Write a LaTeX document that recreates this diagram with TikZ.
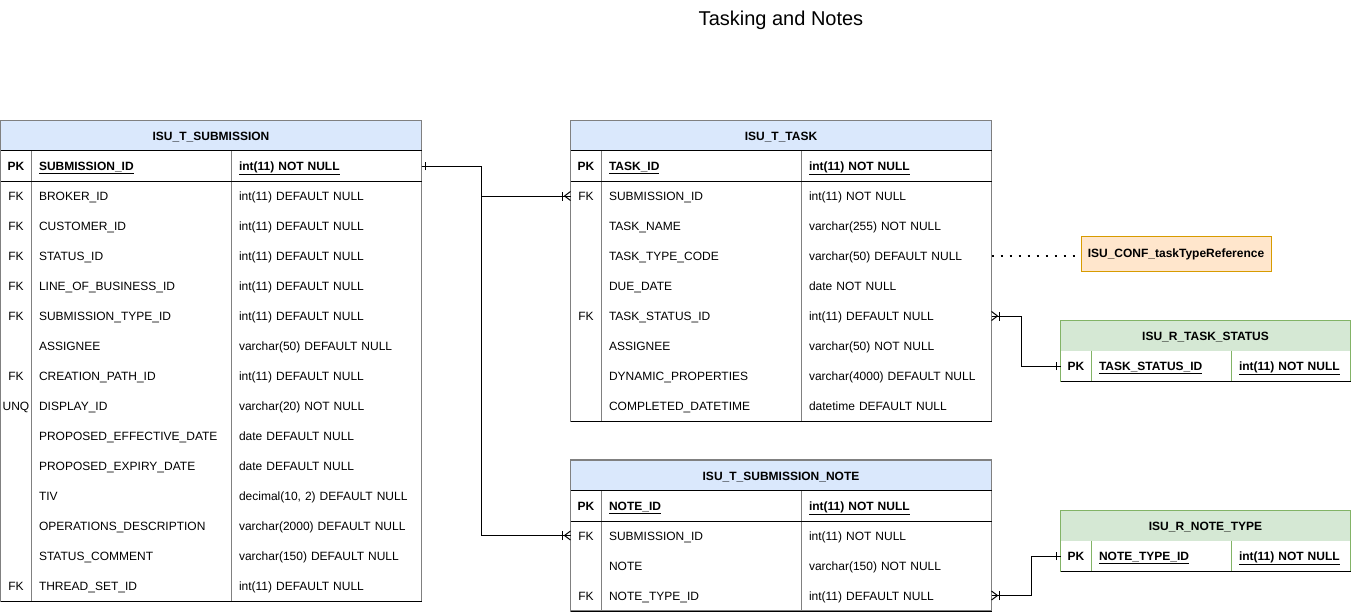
\documentclass[tikz,border=0pt]{standalone}
\usepackage{fontspec}
\setmainfont{Liberation Sans}
\usepackage{xcolor}
\usepackage{tikz}
\usetikzlibrary{positioning, decorations.markings}
\definecolor{headblue}{HTML}{DAE8FC}
\definecolor{headgreen}{HTML}{D5E8D4}
\definecolor{linegreen}{HTML}{82B366}
\definecolor{confill}{HTML}{FFE6CC}
\definecolor{conline}{HTML}{D79B00}

\begin{document}
\begin{tikzpicture}[
  x=1pt, y=-1pt, line width=1pt,
  font=\fontsize{12}{14}\selectfont,
  title/.style={font=\fontsize{20}{24}\selectfont},
  head/.style={minimum height=30pt, inner sep=0pt, text height=9pt, text depth=0pt, font=\fontsize{12}{14}\selectfont\bfseries},
  keycell/.style={minimum width=30pt, minimum height=30pt, inner sep=0pt, text height=9pt, text depth=0pt},
  cell/.style={minimum height=30pt, inner xsep=8pt, inner ysep=0pt, text height=9pt, text depth=0pt, align=left},
  namecell/.style={cell, text width=184pt},
  typecell/.style={cell, text width=174pt},
  pk/.style={font=\fontsize{12}{14}\selectfont\bfseries},
  frame/.style={draw=black!50, line width=1.2pt},
  gframe/.style={draw=linegreen, line width=1.2pt},
  rule/.style={draw=black},
  conf/.style={draw=conline, fill=confill, minimum width=190pt, minimum height=35pt, font=\fontsize{12}{14}\selectfont\bfseries},
  dots/.style={line width=2pt, dash pattern=on 2pt off 7pt},
  rel/.style={draw=black, line width=1pt},
  one start/.style={postaction={decorate, decoration={markings,
      mark=at position 4pt with {\draw[black, line width=1pt] (0pt,-4pt) -- (0pt,4pt);}}}},
  one end/.style={postaction={decorate, decoration={markings,
      mark=at position -4pt with {\draw[black, line width=1pt] (0pt,-4pt) -- (0pt,4pt);}}}},
  many start/.style={postaction={decorate, decoration={markings,
      mark=at position 8pt with {\draw[black, line width=1pt] (0pt,-4.5pt) -- (0pt,4.5pt);},
      mark=at position 6pt with {\draw[black, line width=1pt] (0pt,0pt) -- (-6pt,4.5pt) (0pt,0pt) -- (-6pt,-4.5pt);}}}},
  many end/.style={postaction={decorate, decoration={markings,
      mark=at position -8pt with {\draw[black, line width=1pt] (0pt,-4.5pt) -- (0pt,4.5pt);},
      mark=at position -6pt with {\draw[black, line width=1pt] (0pt,0pt) -- (6pt,4.5pt) (0pt,0pt) -- (6pt,-4.5pt);}}}}
]
\useasboundingbox (0,0) rectangle (1351,611);

\node[title] (title) at (781,20.5) {Tasking and Notes};

\node[head, fill=headblue, minimum width=420pt] (sub) at (211,136) {ISU\_T\_SUBMISSION};
\node[keycell, pk] (sub-k0) at (16,166) {PK};
\node[namecell, pk] (sub-n0) at (131,166) {\underline{SUBMISSION\_ID}};
\node[typecell, pk] (sub-t0) at (326,166) {\underline{int(11) NOT NULL}};
\foreach \k/\f/\t [count=\i] in {
    FK/BROKER\_ID/int(11) DEFAULT NULL,
    FK/CUSTOMER\_ID/int(11) DEFAULT NULL,
    FK/STATUS\_ID/int(11) DEFAULT NULL,
    FK/LINE\_OF\_BUSINESS\_ID/int(11) DEFAULT NULL,
    FK/SUBMISSION\_TYPE\_ID/int(11) DEFAULT NULL,
    {}/ASSIGNEE/varchar(50) DEFAULT NULL,
    FK/CREATION\_PATH\_ID/int(11) DEFAULT NULL,
    UNQ/DISPLAY\_ID/varchar(20) NOT NULL,
    {}/PROPOSED\_EFFECTIVE\_DATE/date DEFAULT NULL,
    {}/PROPOSED\_EXPIRY\_DATE/date DEFAULT NULL,
    {}/TIV/{decimal(10, 2) DEFAULT NULL},
    {}/OPERATIONS\_DESCRIPTION/varchar(2000) DEFAULT NULL,
    {}/STATUS\_COMMENT/varchar(150) DEFAULT NULL,
    FK/THREAD\_SET\_ID/int(11) DEFAULT NULL} {
  \node[keycell] (sub-k\i) at (16,{166+30*\i}) {\k};
  \node[namecell] (sub-n\i) at (131,{166+30*\i}) {\f};
  \node[typecell] (sub-t\i) at (326,{166+30*\i}) {\t};
}
\draw[frame] (sub.north west) rectangle (sub-t14.south east);
\draw[frame] (sub-k0.north east) -- (sub-k14.south east);
\draw[frame] (sub-n0.north east) -- (sub-n14.south east);
\draw[rule] (sub-k0.north west) -- (sub-t0.north east);
\draw[rule] (sub-k0.south west) -- (sub-t0.south east);
\draw[rule] (sub-k14.south west) -- (sub-t14.south east);

\node[head, fill=headblue, minimum width=420pt] (task) at (781,136) {ISU\_T\_TASK};
\node[keycell, pk] (task-k0) at (586,166) {PK};
\node[namecell, pk] (task-n0) at (701,166) {\underline{TASK\_ID}};
\node[typecell, pk] (task-t0) at (896,166) {\underline{int(11) NOT NULL}};
\foreach \k/\f/\t [count=\i] in {
    FK/SUBMISSION\_ID/int(11) NOT NULL,
    {}/TASK\_NAME/varchar(255) NOT NULL,
    {}/TASK\_TYPE\_CODE/varchar(50) DEFAULT NULL,
    {}/DUE\_DATE/date NOT NULL,
    FK/TASK\_STATUS\_ID/int(11) DEFAULT NULL,
    {}/ASSIGNEE/varchar(50) NOT NULL,
    {}/DYNAMIC\_PROPERTIES/varchar(4000) DEFAULT NULL,
    {}/COMPLETED\_DATETIME/datetime DEFAULT NULL} {
  \node[keycell] (task-k\i) at (586,{166+30*\i}) {\k};
  \node[namecell] (task-n\i) at (701,{166+30*\i}) {\f};
  \node[typecell] (task-t\i) at (896,{166+30*\i}) {\t};
}
\draw[frame] (task.north west) rectangle (task-t8.south east);
\draw[frame] (task-k0.north east) -- (task-k8.south east);
\draw[frame] (task-n0.north east) -- (task-n8.south east);
\draw[rule] (task-k0.north west) -- (task-t0.north east);
\draw[rule] (task-k0.south west) -- (task-t0.south east);
\draw[rule] (task-k8.south west) -- (task-t8.south east);

\node[head, fill=headblue, minimum width=420pt] (note) at (781,475.5) {ISU\_T\_SUBMISSION\_NOTE};
\node[keycell, pk] (note-k0) at (586,505.5) {PK};
\node[namecell, pk] (note-n0) at (701,505.5) {\underline{NOTE\_ID}};
\node[typecell, pk] (note-t0) at (896,505.5) {\underline{int(11) NOT NULL}};
\foreach \k/\f/\t [count=\i] in {
    FK/SUBMISSION\_ID/int(11) NOT NULL,
    {}/NOTE/varchar(150) NOT NULL,
    FK/NOTE\_TYPE\_ID/int(11) DEFAULT NULL} {
  \node[keycell] (note-k\i) at (586,{505.5+30*\i}) {\k};
  \node[namecell] (note-n\i) at (701,{505.5+30*\i}) {\f};
  \node[typecell] (note-t\i) at (896,{505.5+30*\i}) {\t};
}
\draw[frame] (note.north west) rectangle (note-t3.south east);
\draw[frame] (note-k0.north east) -- (note-k3.south east);
\draw[frame] (note-n0.north east) -- (note-n3.south east);
\draw[rule] (note-k0.north west) -- (note-t0.north east);
\draw[rule] (note-k0.south west) -- (note-t0.south east);
\draw[rule] (note-k3.south west) -- (note-t3.south east);

\node[head, fill=headgreen, minimum width=289pt] (stat) at (1205.5,336) {ISU\_R\_TASK\_STATUS};
\node[keycell, pk] (stat-k0) at (1076,366) {PK};
\node[namecell, pk, text width=124pt] (stat-n0) at (1161,366) {\underline{TASK\_STATUS\_ID}};
\node[typecell, pk, text width=103pt] (stat-t0) at (1290.5,366) {\underline{int(11) NOT NULL}};
\draw[gframe] (stat.north west) rectangle (stat-t0.south east);
\draw[gframe] (stat-k0.north east) -- (stat-k0.south east);
\draw[gframe] (stat-n0.north east) -- (stat-n0.south east);
\draw[rule] (stat-k0.south west) -- (stat-t0.south east);

\node[head, fill=headgreen, minimum width=289pt] (ntype) at (1205.5,526) {ISU\_R\_NOTE\_TYPE};
\node[keycell, pk] (ntype-k0) at (1076,556) {PK};
\node[namecell, pk, text width=124pt] (ntype-n0) at (1161,556) {\underline{NOTE\_TYPE\_ID}};
\node[typecell, pk, text width=103pt] (ntype-t0) at (1290.5,556) {\underline{int(11) NOT NULL}};
\draw[gframe] (ntype.north west) rectangle (ntype-t0.south east);
\draw[gframe] (ntype-k0.north east) -- (ntype-k0.south east);
\draw[gframe] (ntype-n0.north east) -- (ntype-n0.south east);
\draw[rule] (ntype-k0.south west) -- (ntype-t0.south east);

\node[conf] (cref) at (1176,254) {ISU\_CONF\_taskTypeReference};

\draw[rel, one start, many end] (sub-t0.east) -- ++(60,0) |- (task-k1.west);
\draw[rel, one start, many end] (sub-t0.east) -- ++(60,0) |- (note-k1.west);
\draw[rel, many start, one end] (task-t5.east) -- ++(30,0) |- (stat-k0.west);
\draw[rel, many start, one end] (note-t3.east) -- ++(40,0) |- (ntype-k0.west);
\draw[dots] (task-t3.east) -- (task-t3.east -| cref.west);
\end{tikzpicture}
\end{document}
